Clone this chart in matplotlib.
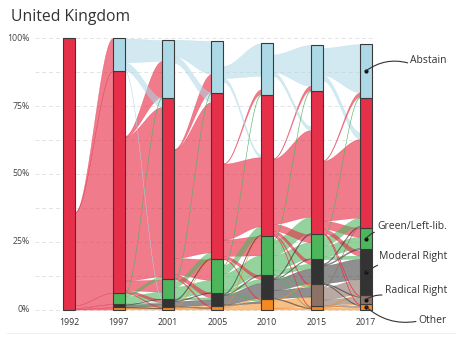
import numpy as np
import matplotlib
matplotlib.use("Agg")
import matplotlib.pyplot as plt

# ---------------- data ----------------
years = ["1992", "1997", "2001", "2005", "2010", "2015", "2017"]
categories = ["O", "RR", "MR", "G", "S", "A"]          # bottom -> top
cat_labels = {"O": "Other", "RR": "Radical Right", "MR": "Moderal Right",
              "G": "Green/Left-lib.", "S": "Social Democrats", "A": "Abstain"}

other    = [0.0, 0.8, 1.0, 1.5, 3.9, 1.3, 2.1]
radical  = [0.0, 0.0, 0.0, 0.0, 0.0, 8.0, 3.2]
moderate = [0.0, 1.2, 2.8, 4.6, 8.7, 9.3, 16.9]
green    = [0.0, 4.2, 7.4, 12.4, 14.5, 9.1, 8.0]
social   = [100.0, 81.8, 66.9, 61.4, 52.0, 52.8, 48.0]
abstain  = [0.0, 12.0, 21.3, 19.1, 19.1, 17.1, 19.7]

# flows between consecutive years: (from, to, share at origin, share at destination)
# None = respondents not traced on that side (left blank)
flows_92_97 = [
    ("S", "O", 0.2, 0.8), ("S", "MR", 0.4, 1.2), ("S", "G", 1.0, 4.2),
    ("S", "S", 34.4, 81.8), ("S", "A", 0.0, 12.0),
]
flows_97_01 = [
    ("O", "O", 0.5, 0.5), ("O", "MR", 0.3, 0.3),
    ("MR", "O", 0.2, 0.2), ("MR", "MR", 0.8, 1.0), ("MR", "G", 0.2, 0.2),
    ("G", "MR", 0.4, 0.4), ("G", "G", 2.5, 2.6), ("G", "S", 1.0, 1.0), ("G", "A", 0.3, 0.3),
    ("S", "O", 0.2, 0.3), ("S", "MR", 0.8, 1.1), ("S", "G", 3.5, 4.4),
    ("S", "S", 53.0, 62.5), ("S", "A", 0.3, 13.3),
    ("A", "MR", 0.2, 0.2), ("A", "S", 3.0, 3.4), ("A", "A", 8.8, 7.7),
]
flows_01_05 = [
    ("O", "O", 0.6, 0.6), ("O", "MR", 0.2, 0.2), ("O", "S", 0.2, 0.2),
    ("MR", "O", 0.3, 0.3), ("MR", "MR", 1.8, 2.0), ("MR", "G", 0.3, 0.3), ("MR", "S", 0.4, 0.4),
    ("G", "MR", 0.6, 0.8), ("G", "G", 4.0, 4.5), ("G", "S", 2.0, 2.0), ("G", "A", 0.4, 0.4),
    ("S", "O", 0.4, 0.6), ("S", "MR", 1.4, 1.7), ("S", "G", 6.0, 7.6),
    ("S", "S", 40.0, 55.5), ("S", "A", 0.2, 6.6),
    ("A", None, 12.9, 0.0), ("A", "S", 2.5, 3.5), ("A", "A", 6.0, 12.2),
]
flows_05_10 = [
    ("O", "O", 1.0, 2.5), ("O", "MR", 0.3, 0.4), ("O", "S", 0.2, 0.2),
    ("MR", "O", 0.4, 0.6), ("MR", "MR", 3.5, 5.5), ("MR", "G", 0.3, 0.4), ("MR", "S", 0.4, 0.4),
    ("G", "O", 0.3, 0.4), ("G", "MR", 1.0, 1.5), ("G", "G", 6.0, 7.0), ("G", "S", 3.0, 3.0),
    ("G", "A", 0.3, 0.5),
    ("S", "O", 0.3, 0.4), ("S", "MR", 1.0, 1.3), ("S", "G", 6.0, 7.1),
    ("S", "S", 28.0, 25.5), ("S", "A", 0.2, 1.6),
    (None, "A", 0.0, 5.0),
    ("A", None, 4.0, 0.0), ("A", "S", 1.5, 1.0), ("A", "A", 4.5, 12.0),
    (None, "S", 0.0, 21.9),
]
flows_10_15 = [
    ("O", "O", 0.5, 0.5), ("O", "RR", 2.8, 3.5), ("O", "MR", 0.3, 0.3),
    ("MR", "O", 0.3, 0.3), ("MR", "RR", 3.0, 3.5), ("MR", "MR", 4.0, 5.5),
    ("MR", "G", 0.2, 0.3), ("MR", "S", 0.5, 0.5),
    ("G", "O", 0.2, 0.2), ("G", "RR", 0.3, 0.4), ("G", "MR", 1.5, 1.8),
    ("G", "G", 5.5, 6.0), ("G", "S", 5.5, 6.0), ("G", "A", 0.3, 0.5),
    ("S", "O", 0.3, 0.3), ("S", "RR", 0.5, 0.6), ("S", "MR", 1.2, 1.4), ("S", "G", 2.5, 2.8),
    ("S", "S", 24.0, 32.0), ("S", "A", 0.2, 1.5),
    ("A", None, 7.0, 0.0), ("A", "S", 1.5, 1.5), ("A", "A", 6.5, 15.1),
]
flows_15_17 = [
    ("O", "O", 0.7, 1.0), ("O", "RR", 0.3, 0.3), ("O", "MR", 0.3, 0.4),
    ("RR", "O", 0.4, 0.5), ("RR", "RR", 2.0, 2.3), ("RR", "MR", 4.5, 5.5), ("RR", "S", 0.3, 0.3),
    ("MR", "O", 0.2, 0.3), ("MR", "RR", 0.3, 0.3), ("MR", "MR", 6.5, 7.5),
    ("MR", "G", 0.4, 0.5), ("MR", "S", 0.4, 0.4),
    ("G", "MR", 1.0, 1.2), ("G", "G", 4.0, 4.2), ("G", "S", 3.0, 3.0), ("G", "A", 0.3, 0.4),
    ("S", "O", 0.3, 0.3), ("S", "RR", 0.3, 0.3), ("S", "MR", 1.5, 1.9), ("S", "G", 3.0, 3.3),
    ("S", "S", 22.0, 29.0), ("S", "A", 0.2, 1.5),
    ("A", None, 4.0, 0.0), ("A", "S", 2.0, 2.5), ("A", "A", 10.0, 17.8),
]
flow_sets = [flows_92_97, flows_97_01, flows_01_05, flows_05_10, flows_10_15, flows_15_17]

y_ticks = [0, 25, 50, 75, 100]
y_tick_labels = ["0%", "25%", "50%", "75%", "100%"]

# ---------------- style ----------------
colors = {"O": "#F5891F", "RR": "#8C7266", "MR": "#333333",
          "G": "#4DB65C", "S": "#E6304A", "A": "#ADD8E6"}
flow_alpha = {"O": 0.55, "RR": 0.6, "MR": 0.55, "G": 0.6, "S": 0.64, "A": 0.55}
plt.rcParams["font.family"] = ["Open Sans", "DejaVu Sans"]

shares = {"O": other, "RR": radical, "MR": moderate, "G": green, "S": social, "A": abstain}

W, H = 461, 338
fig = plt.figure(figsize=(W / 100, H / 100), dpi=100)
ax_l, ax_r, ax_t, ax_b = 35, 376, 33, 315
ax = fig.add_axes([ax_l / W, 1 - ax_b / H, (ax_r - ax_l) / W, (ax_b - ax_t) / H])
px_per_unit = (366 - 69) / 6.0
ax.set_xlim((ax_l - 69) / px_per_unit, (ax_r - 69) / px_per_unit)
ax.set_ylim(-2.0, 102.0)
ax.axis("off")

# grid
for v in np.arange(0, 100.1, 12.5):
    ax.axhline(v, color="#E3E3E3", lw=0.7, ls=(0, (4, 3)), zorder=0)

bw = 12 / px_per_unit
hw = bw / 2


def bounds(i):
    out, cum = {}, 0.0
    for c in categories:
        out[c] = (cum, cum + shares[c][i])
        cum += shares[c][i]
    return out


def smooth(t):
    return t * t * (3 - 2 * t)


draw_list = []
for g, flows in enumerate(flow_sets):
    sb, tb = bounds(g), bounds(g + 1)
    sc = {c: sb[c][0] for c in categories}
    tc = {c: tb[c][0] for c in categories}
    for src, tgt, ws, wt in flows:
        s0 = t0 = None
        if src is not None:
            s0 = sc[src]
            sc[src] += ws
        if tgt is not None:
            t0 = tc[tgt]
            tc[tgt] += wt
        if src is None or tgt is None:
            continue
        draw_list.append((max(ws, wt), g, s0, ws, t0, wt, src))

draw_list.sort(key=lambda d: -d[0])
t = np.linspace(0, 1, 80)
s = smooth(t)
for _, g, s0, ws, t0, wt, src in draw_list:
    x = np.concatenate([[g], g + hw + (1 - 2 * hw) * t, [g + 1]])
    lo = np.concatenate([[s0], s0 + (t0 - s0) * s, [t0]])
    hi = np.concatenate([[s0 + ws], (s0 + ws) + ((t0 + wt) - (s0 + ws)) * s, [t0 + wt]])
    ax.fill_between(x, lo, hi, color=colors[src], alpha=flow_alpha[src], lw=0.3,
                    edgecolor=colors[src], zorder=1)

# bars
for i in range(len(years)):
    bottom = 0.0
    for c in categories:
        v = shares[c][i]
        if v > 0:
            ax.bar(i, v, bottom=bottom, width=bw, color=colors[c], edgecolor="#3a3a3a",
                   lw=0.8, zorder=3)
        bottom += v

# axis labels
for v, lab in zip(y_ticks, y_tick_labels):
    ax.text((30 - 69) / px_per_unit, v, lab, ha="right", va="center", fontsize=6.3,
            color="#444444", clip_on=False)
for i, yr in enumerate(years):
    ax.text(i, -3.2, yr, ha="center", va="top", fontsize=6.3, color="#333333", clip_on=False)

fig.text(11 / W, 1 - 17 / H, "United Kingdom", ha="left", va="center", fontsize=11.3,
         color="#333333")

# right-hand labels
last = bounds(len(years) - 1)
x_text = (447 - 69) / px_per_unit
label_specs = [("A", 91.7, (0.0, 0.25), 0.25),
               ("G", 30.8, (0.12, 0.0), 0.3),
               ("MR", 19.4, (0.6, 0.0), 0.25),
               ("RR", 7.2, (0.03, 0.0), 0.2),
               ("O", -4.2, (0.0, 0.5), -0.25)]
for c, ty, rel, rad in label_specs:
    lo_, hi_ = last[c]
    ym = (lo_ + hi_) / 2
    ax.scatter([len(years) - 1], [ym], s=4, color="#111111", zorder=5)
    ax.annotate(cat_labels[c], xy=(len(years) - 1, ym), xytext=(x_text, ty),
                ha="right", va="center", fontsize=7.5, color="#333333",
                annotation_clip=False,
                arrowprops=dict(arrowstyle="-", color="#333333", lw=0.8, relpos=rel,
                                shrinkA=0, shrinkB=0,
                                connectionstyle=f"arc3,rad={rad}"), zorder=6)

fig.add_artist(plt.Line2D([7 / W, 455 / W], [1 - 333 / H, 1 - 333 / H], color="#F0F0F0", lw=0.8))

fig.savefig("out.png", dpi=100)
